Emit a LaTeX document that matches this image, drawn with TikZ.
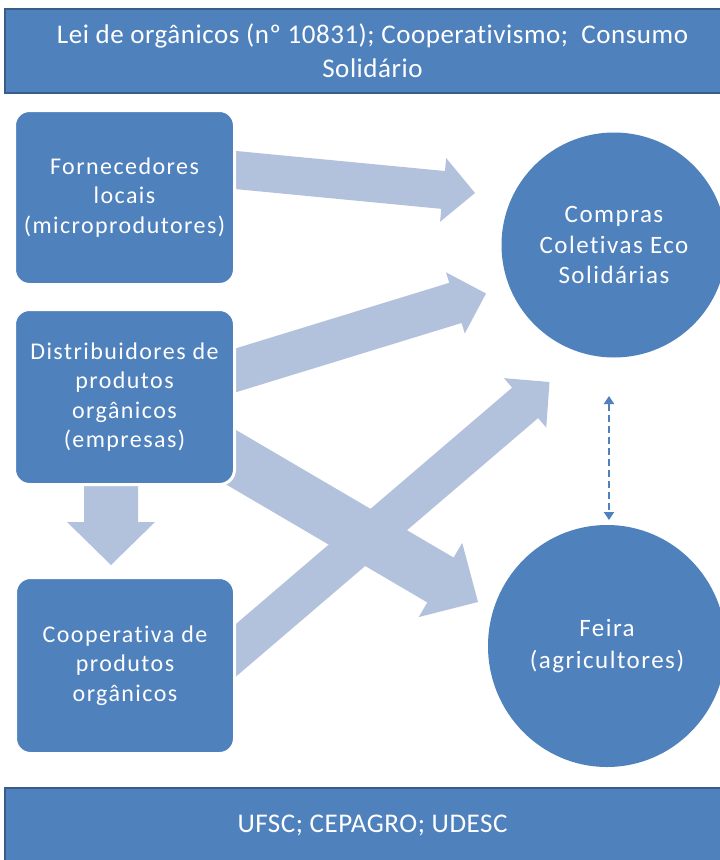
\documentclass[tikz,border=0pt]{standalone}
\usepackage{fontspec}
\setmainfont{Carlito}
\newfontfamily\boxfont[LetterSpace=6,Ligatures=NoCommon]{Carlito}
\newfontfamily\circfont[LetterSpace=6,Ligatures=NoCommon]{Carlito}
\newfontfamily\banfont[LetterSpace=2,Ligatures=NoCommon]{Carlito}
\usetikzlibrary{calc,arrows.meta,shapes.geometric}
\definecolor{boxblue}{RGB}{79,129,189}
\definecolor{bannerline}{RGB}{56,93,138}
\definecolor{arrowfill}{RGB}{179,194,220}
% #1 tail, #2 tip, #3 shaft half width, #4 head half width, #5 head length
\newcommand\blockarrow[5]{%
  \fill[arrowfill] let \p1=(#1), \p2=(#2),
    \n1={atan2(\y2-\y1,\x2-\x1)}, \n2={veclen(\x2-\x1,\y2-\y1)} in
    ($(#1)+({\n1+90}:#3)$)
    -- ($(#1)+(\n1:{\n2-#5})+({\n1+90}:#3)$)
    -- ($(#1)+(\n1:{\n2-#5})+({\n1+90}:#4)$)
    -- (#2)
    -- ($(#1)+(\n1:{\n2-#5})+({\n1-90}:#4)$)
    -- ($(#1)+(\n1:{\n2-#5})+({\n1-90}:#3)$)
    -- ($(#1)+({\n1-90}:#3)$) -- cycle;}
\begin{document}
\begin{tikzpicture}[x=1pt,y=-1pt,
  txt/.style={text=white,align=center,inner sep=0pt},
  banner/.style={txt,font=\banfont\fontsize{27}{34}\selectfont,fill=boxblue,draw=bannerline,line width=1.5pt},
  sbox/.style={txt,font=\boxfont\fontsize{24}{29.5}\selectfont,rounded corners=15pt,fill=boxblue,draw=white,line width=3pt},
  round/.style={txt,font=\circfont\fontsize{25}{30.5}\selectfont,circle,fill=boxblue},
  oval/.style={txt,font=\circfont\fontsize{25}{32}\selectfont,ellipse,fill=boxblue},
  link/.style={boxblue,line width=2.2pt,dash pattern=on 7pt off 4pt,
    {Triangle[length=8pt,width=10pt]}-{Triangle[length=8pt,width=10pt]}}]
\useasboundingbox (0,0) rectangle (720,860);
\clip (0,0) rectangle (720,860);
\fill[white] (0,0) rectangle (720,860);

% banners
\node[banner,minimum width=735,minimum height=84] (law) at (372.5,51)
  {Lei de orgânicos (nº 10831); Cooperativismo;\ \ Consumo\\Solidário};
\node[banner,minimum width=735,minimum height=74] (inst) at (372.5,825)
  {UFSC; CEPAGRO; UDESC};

% block arrows (tails hidden behind the boxes)
\coordinate (a1t) at (200,166.6); \coordinate (a1h) at (475,193);
\coordinate (a2t) at (200,381.3); \coordinate (a2h) at (486,293.5);
\coordinate (a3t) at (200,681);   \coordinate (a3h) at (549.5,382);
\coordinate (a4t) at (200,439);   \coordinate (a4h) at (478,602);
\coordinate (a5t) at (111,470);   \coordinate (a5h) at (111,565);
\blockarrow{a1t}{a1h}{19pt}{32pt}{32pt}
\blockarrow{a2t}{a2h}{21pt}{32pt}{32pt}
\blockarrow{a3t}{a3h}{20pt}{32.5pt}{32pt}
\blockarrow{a4t}{a4h}{26pt}{43pt}{43.5pt}
\blockarrow{a5t}{a5h}{27pt}{44pt}{43pt}

% boxes
\node[sbox,minimum width=220,minimum height=174] (forn) at (124.5,197.5)
  {Fornecedores\\locais\\(microprodutores)};
\node[sbox,minimum width=220,minimum height=175] (dist) at (124.5,397)
  {Distribuidores de\\produtos\\orgânicos\\(empresas)};
\node[sbox,minimum width=219,minimum height=176] (coop) at (125,665.5)
  {Cooperativa de\\produtos\\orgânicos};

% circles
\node[round,minimum size=225] (comp) at (614,245)
  {Compras\\Coletivas Eco\\Solidárias};
\node[oval,minimum width=238,minimum height=242] (feira) at (607,646)
  {Feira\\(agricultores)};

% dashed double arrow
\coordinate (d1) at (609,396);
\coordinate (d2) at (609,520);
\draw[link] (d1) -- (d2);
\end{tikzpicture}
\end{document}
